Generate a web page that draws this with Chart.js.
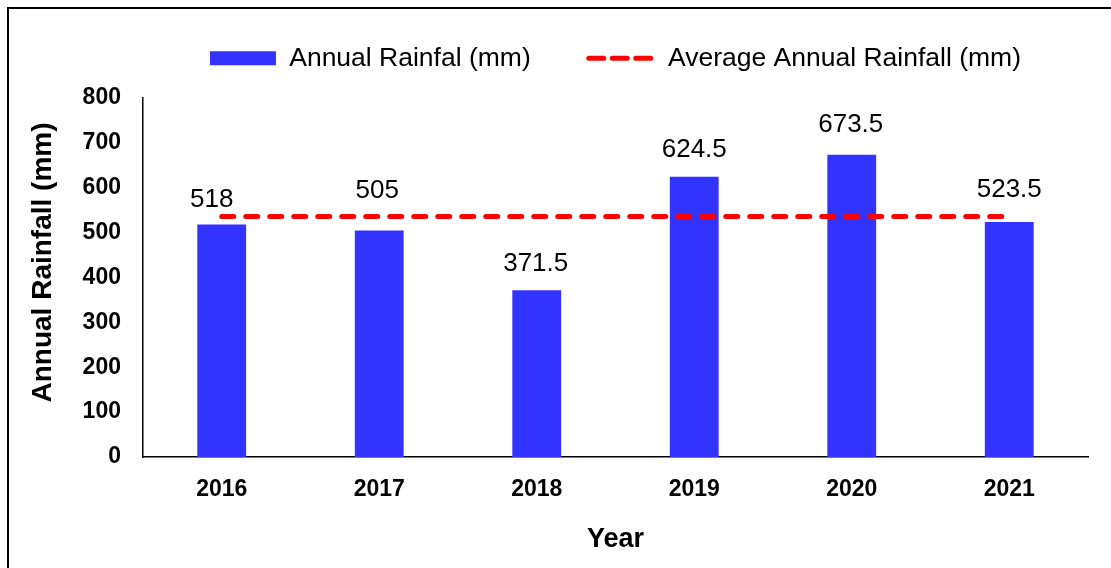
<!DOCTYPE html>
<html>
<head>
<meta charset="utf-8">
<script src="https://cdn.jsdelivr.net/npm/chart.js@4.4.1/dist/chart.umd.min.js"></script>
<style>
  html, body { margin: 0; padding: 0; background: #fff; overflow: hidden; }
  #wrap { position: relative; width: 1111px; height: 568px; }
  #frame { position: absolute; left: 7px; top: 7px; width: 1200px; height: 700px;
           border-left: 2px solid #000; border-top: 2px solid #000; }
  canvas { position: absolute; left: 0; top: 0; }
</style>
</head>
<body>
<div id="wrap">
  <div id="frame"></div>
  <canvas id="myChart" width="1111" height="568"></canvas>
</div>
<script>
const years = ["2016", "2017", "2018", "2019", "2020", "2021"];
const annualRain = [518, 505, 371.5, 624.5, 673.5, 523.5];
const avgRain = [536, 536, 536, 536, 536, 536];

const FONT = "'Liberation Sans', Arial, sans-serif";
Chart.defaults.font.family = FONT;
Chart.defaults.color = "#000";

// value labels above the bars (a few are nudged like in the original)
const labelNudgeX = [-10, -2, -1, 0, -1, 0];
const labelLift = [25, 40, 26, 27, 30, 32];

const barLabels = {
  id: "barLabels",
  afterDatasetsDraw(chart) {
    const ctx = chart.ctx;
    const meta = chart.getDatasetMeta(0);
    ctx.save();
    ctx.font = "26px " + FONT;
    ctx.fillStyle = "#000";
    ctx.textAlign = "center";
    ctx.textBaseline = "middle";
    meta.data.forEach((bar, i) => {
      ctx.fillText(String(annualRain[i]), bar.x + labelNudgeX[i], bar.y - labelLift[i]);
    });
    ctx.restore();
  }
};

// fixed legend height, legend centered over the plot area,
// and the y title sits a little above the middle like in the original
const layoutTweak = {
  id: "layoutTweak",
  beforeInit(chart) {
    const fit = chart.legend.fit;
    chart.legend.fit = function () {
      fit.call(this);
      this.height = 93;
    };
  },
  afterLayout(chart) {
    const lg = chart.legend;
    const ca = chart.chartArea;
    const d = (ca.left + ca.right) / 2 - (lg.left + lg.right) / 2;
    lg.left += d;
    lg.right += d;
    lg.top -= 18;

    const ys = chart.scales.y;
    if (!ys._titleLifted) {
      const drawTitle = ys.drawTitle;
      ys.drawTitle = function () {
        this.ctx.save();
        this.ctx.translate(0, -15);
        drawTitle.call(this);
        this.ctx.restore();
      };
      ys._titleLifted = true;
    }
  }
};

const ctx = document.getElementById("myChart");

new Chart(ctx, {
  type: "bar",
  data: {
    labels: years,
    datasets: [
      {
        label: "Annual Rainfal (mm)",
        data: annualRain,
        backgroundColor: "#3333ff",
        categoryPercentage: 1,
        barPercentage: 0.31,
        order: 1
      },
      {
        type: "line",
        label: "Average Annual Rainfall (mm)",
        data: avgRain,
        borderColor: "#ff0000",
        backgroundColor: "#ff0000",
        borderWidth: 5,
        borderDash: [12, 12],
        borderCapStyle: "round",
        pointRadius: 0,
        pointHoverRadius: 0,
        order: 0
      }
    ]
  },
  options: {
    responsive: false,
    animation: false,
    devicePixelRatio: 1,
    layout: { padding: { top: 5, left: 26, right: 23, bottom: 12 } },
    plugins: {
      tooltip: { enabled: false },
      legend: {
        position: "top",
        labels: {
          usePointStyle: true,
          pointStyleWidth: 66,
          boxHeight: 14,
          padding: 58,
          color: "#000",
          font: { size: 26.5 },
          sort: (a, b) => a.datasetIndex - b.datasetIndex,
          generateLabels(chart) {
            const items = Chart.defaults.plugins.legend.labels.generateLabels(chart);
            items.forEach((it) => {
              if (it.datasetIndex === 0) {
                it.pointStyle = "rect";
                it.lineWidth = 0;
              } else {
                it.pointStyle = "line";
                it.lineWidth = 5;
                it.lineDash = [15, 8.5];
                it.lineCap = "round";
                it.strokeStyle = "#ff0000";
              }
            });
            return items;
          }
        }
      }
    },
    scales: {
      x: {
        grid: { display: false, drawTicks: false },
        border: { display: true, color: "#000", width: 1.5 },
        ticks: { color: "#000", font: { size: 23, weight: "bold" }, padding: 19 },
        title: {
          display: true,
          text: "Year",
          color: "#000",
          font: { size: 27, weight: "bold" },
          padding: { top: 1, bottom: 0 }
        }
      },
      y: {
        min: 0,
        max: 800,
        grid: { display: false, drawTicks: false },
        border: { display: true, color: "#000", width: 1.5 },
        ticks: { stepSize: 100, color: "#000", font: { size: 23, weight: "bold" }, padding: 22 },
        title: {
          display: true,
          text: "Annual Rainfall (mm)",
          color: "#000",
          font: { size: 28, weight: "bold" },
          padding: { top: 0, bottom: 1 }
        }
      }
    }
  },
  plugins: [barLabels, layoutTweak]
});
</script>
</body>
</html>
